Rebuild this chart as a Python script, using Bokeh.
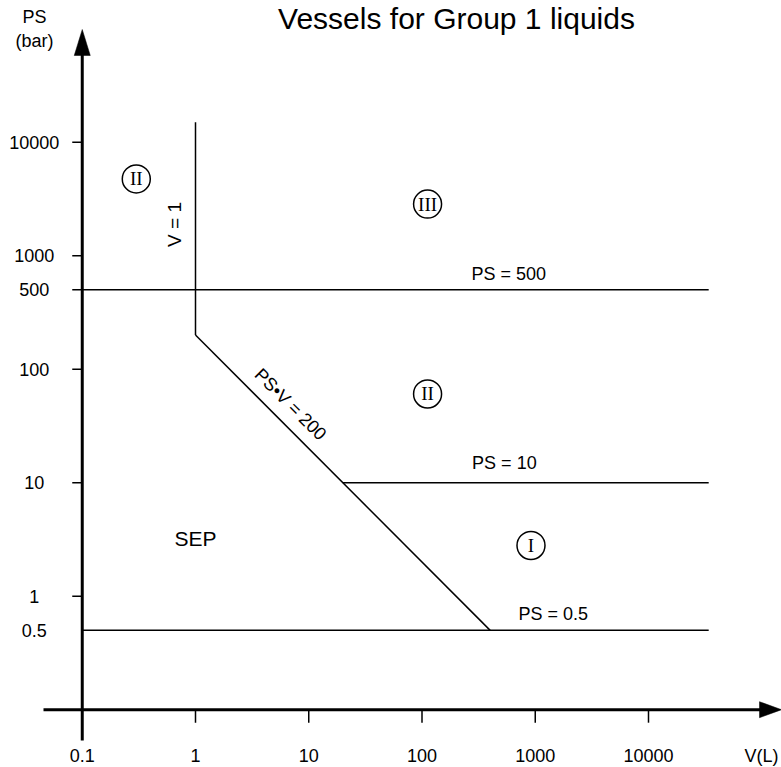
import math
from bokeh.plotting import figure
from bokeh.models import Range1d
from bokeh.core.properties import value
from bokeh.embed import file_html
from bokeh.resources import INLINE

# ---------------- data ----------------
title_text = "Vessels for Group 1 liquids"
x_label_vals = [0.1, 1, 10, 100, 1000, 10000]
x_label_text = ["0.1", "1", "10", "100", "1000", "10000"]
x_tick_vals = [1, 10, 100, 1000, 10000]
y_label_vals = [10000, 1000, 500, 100, 10, 1, 0.5]
y_label_text = ["10000", "1000", "500", "100", "10", "1", "0.5"]
y_tick_vals = [10000, 1000, 500, 100, 10, 1]

V_MIN = 0.1          # left end of boundary lines (V axis origin)
V_MAX = 34000        # right end of horizontal boundary lines
ps500_V = [V_MIN, V_MAX]
ps500_PS = [500, 500]
ps10_V = [20, V_MAX]
ps10_PS = [10, 10]
ps05_V = [V_MIN, V_MAX]
ps05_PS = [0.5, 0.5]
v1_V = [1, 1]
v1_PS = [200, 15000]
psv_V = [1, 400]
psv_PS = [200, 0.5]

# region markers (circled category numerals)
region_text = ["II", "III", "II", "I"]
region_V = [0.30, 112, 112, 917]
region_PS = [4750, 2850, 60.5, 2.8]

# line labels (left-aligned, vertically centred)
line_lab_text = ["PS = 500", "PS = 10", "PS = 0.5"]
line_lab_V = [274, 277, 711]
line_lab_PS = [686, 14.9, 0.696]

# ---------------- layout ----------------
W, H = 781, 767
XPD = 113.25   # px per decade, x
YPD = 113.5    # px per decade, y
XL0 = -1 - 81.75 / XPD
XL1 = XL0 + W / XPD
YL1 = 4 + 141.7 / YPD
YL0 = YL1 - H / YPD


def xd(px):
    return 10 ** (XL0 + px / XPD)


def yd(py):
    return 10 ** (YL1 - py / YPD)


FONT = value("Liberation Sans")
SERIF = value("Liberation Serif")

p = figure(width=W, height=H, x_axis_type="log", y_axis_type="log",
           x_range=Range1d(10 ** XL0, 10 ** XL1), y_range=Range1d(10 ** YL0, 10 ** YL1),
           x_axis_location=None, y_axis_location=None,
           toolbar_location=None, output_backend="svg",
           min_border=0, min_border_left=0, min_border_right=0,
           min_border_top=0, min_border_bottom=0)
p.margin = (0, 0, 0, 0)
p.outline_line_color = None
p.xgrid.grid_line_color = None
p.ygrid.grid_line_color = None
p.background_fill_color = "white"
p.border_fill_color = "white"

# axes (origin at V=0.1, PS=0.1)
p.line([0.1, 0.1], [yd(740), yd(52)], line_width=3, color="black")
p.line([xd(43), xd(762)], [0.1, 0.1], line_width=3, color="black")
p.patch([0.1 * 10 ** (-8 / XPD), 0.1, 0.1 * 10 ** (8 / XPD)],
        [yd(55), yd(29), yd(55)], color="black", line_width=0.5)
p.patch([xd(759), xd(781), xd(759)],
        [0.1 * 10 ** (8 / YPD), 0.1, 0.1 * 10 ** (-8 / YPD)], color="black", line_width=0.5)

# ticks
p.ray(x=[0.1] * len(y_tick_vals), y=y_tick_vals, length=10, angle=math.pi,
      length_units="screen", line_width=1.5, color="black")
p.ray(x=x_tick_vals, y=[0.1] * len(x_tick_vals), length=13, angle=-math.pi / 2,
      length_units="screen", line_width=1.5, color="black")

# tick labels
p.text(x=[0.1] * len(y_label_vals), y=y_label_vals, text=y_label_text, x_offset=-48,
       text_align="center", text_baseline="middle", text_font=FONT,
       text_font_size="18px", text_color="black")
p.text(x=x_label_vals, y=[0.1] * len(x_label_vals), text=x_label_text, y_offset=46,
       text_align="center", text_baseline="middle", text_font=FONT,
       text_font_size="18px", text_color="black")

# axis titles & chart title
p.text(x=[xd(34), xd(34)], y=[yd(16.5), yd(40)], text=["PS", "(bar)"],
       text_align="center", text_baseline="middle", text_font=FONT,
       text_font_size="18px", text_color="black")
p.text(x=[xd(761)], y=[0.1], text=["V(L)"], y_offset=46,
       text_align="center", text_baseline="middle", text_font=FONT,
       text_font_size="18px", text_color="black")
p.text(x=[xd(456)], y=[yd(17.5)], text=[title_text],
       text_align="center", text_baseline="middle", text_font=FONT,
       text_font_size="30px", text_color="black")

# boundary lines
for xs, ys in [(ps500_V, ps500_PS), (ps10_V, ps10_PS), (ps05_V, ps05_PS),
               (v1_V, v1_PS), (psv_V, psv_PS)]:
    p.line(xs, ys, line_width=1.5, color="black")

# line labels
p.text(x=line_lab_V, y=line_lab_PS, text=line_lab_text,
       text_align="left", text_baseline="middle", text_font=FONT,
       text_font_size="18px", text_color="black")
p.text(x=[0.659], y=[1884], text=["V = 1"], angle=math.pi / 2,
       text_align="center", text_baseline="middle", text_font=FONT,
       text_font_size="19px", text_color="black")
p.text(x=[6.9], y=[49], text=["PS\u2022V = 200"], angle=-math.pi / 4,
       text_align="center", text_baseline="middle", text_font=FONT,
       text_font_size="18px", text_color="black")
p.text(x=[1.0], y=[3.2], text=["SEP"],
       text_align="center", text_baseline="middle", text_font=FONT,
       text_font_size="21px", text_color="black")

# circled category numerals
p.scatter(x=region_V, y=region_PS, marker="circle", size=28,
          fill_color=None, line_color="black", line_width=1.5)
p.text(x=region_V, y=region_PS, text=region_text,
       text_align="center", text_baseline="middle", text_font=SERIF,
       text_font_size="19px", text_color="black")

open("out.html", "w").write(file_html(p, INLINE))
